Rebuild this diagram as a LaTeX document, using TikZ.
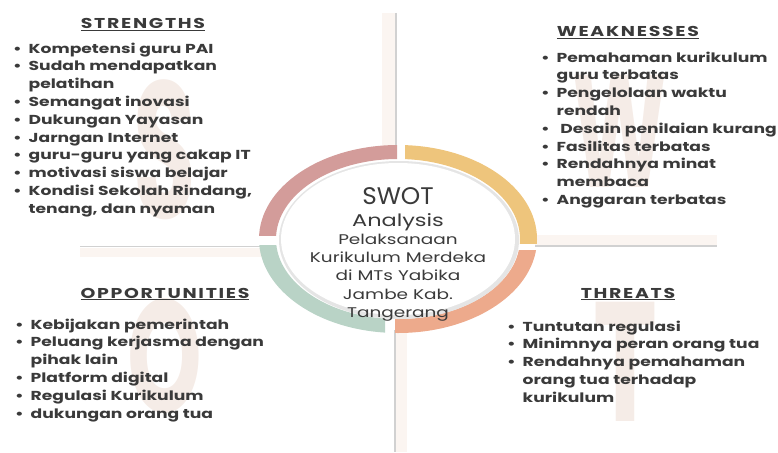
\documentclass[tikz,border=0pt]{standalone}
\usepackage{fontspec}
\setmainfont{Poppins}[FakeStretch=1.32]
\usepackage[HTML]{xcolor}
\usetikzlibrary{positioning}

\definecolor{txtgray}{HTML}{3A3A3A}
\definecolor{sred}{HTML}{D39C9A}
\definecolor{wyellow}{HTML}{EEC57C}
\definecolor{tsalmon}{HTML}{EDAA8C}
\definecolor{ogreen}{HTML}{B9D3C6}
\definecolor{bandcol}{HTML}{FBF5F1}
\definecolor{markcol}{HTML}{F5ECE7}

\newcommand{\itm}[1]{\makebox[15.5pt][l]{\textbullet}#1}
\newcommand{\cnt}[1]{\hspace*{15.5pt}#1}

\begin{document}
\begin{tikzpicture}[x=1pt, y=-1pt,
  list/.style={anchor=north west, align=left, inner sep=0pt, text=txtgray,
    font=\fontsize{13}{17.8}\selectfont\bfseries},
  head/.style={anchor=base, inner sep=0pt, text=txtgray,
    font=\fontsize{14.3}{16}\selectfont\bfseries\addfontfeatures{LetterSpace=12}},
  bigmark/.style={text=markcol, inner sep=0pt, transform shape,
    font=\fontsize{100}{100}\selectfont\bfseries},
  center/.style={anchor=base, inner sep=0pt, text=txtgray, align=center}]
\useasboundingbox (0,0) rectangle (778,452);

% Faint letters behind the lists
\node[bigmark, xscale=0.77, yscale=1.95] (markS) at (165,150) {S};
\node[bigmark, xscale=0.68, yscale=1.6] (markW) at (620,131) {W};
\node[bigmark, xscale=0.72, yscale=1.6] (markO) at (165,356) {O};
\node[bigmark, xscale=0.82, yscale=1.7] (markT) at (625,362) {T};

% Cross bands
\fill[bandcol] (382,13) rectangle (395,150);
\draw[black!18, line width=1.5pt] (396,13) -- (396,150);
\fill[bandcol] (396,330) rectangle (407,452);
\draw[black!18, line width=1.5pt] (395,330) -- (395,452);
\fill[bandcol] (80,248) rectangle (262,257);
\draw[black!18, line width=1.5pt] (80,246.5) -- (262,246.5);
\fill[bandcol] (535,235) rectangle (717,245);
\draw[black!18, line width=1.5pt] (535,246) -- (717,246);

% Ring quadrants
\begin{scope}
\clip (0,0) rectangle (397,235);
\fill[sred, even odd rule] (398,239) ellipse [x radius=139pt, y radius=94pt]
  (398,239) ellipse [x radius=122pt, y radius=80pt];
\end{scope}
\begin{scope}
\clip (405,0) rectangle (778,243);
\fill[wyellow, even odd rule] (398,239) ellipse [x radius=139pt, y radius=94pt]
  (398,239) ellipse [x radius=122pt, y radius=80pt];
\end{scope}
\begin{scope}
\clip (395,250) rectangle (778,452);
\fill[tsalmon, even odd rule] (398,239) ellipse [x radius=139pt, y radius=94pt]
  (398,239) ellipse [x radius=122pt, y radius=80pt];
\end{scope}
\begin{scope}
\clip (0,245) rectangle (385,452);
\fill[ogreen, even odd rule] (398,239) ellipse [x radius=139pt, y radius=94pt]
  (398,239) ellipse [x radius=122pt, y radius=80pt];
\end{scope}

% Inner disc
\fill[black!10] (399,240) ellipse [x radius=120pt, y radius=79pt];
\fill[white] (398,239) ellipse [x radius=117pt, y radius=76pt];

% Centre text
\node[center, xscale=0.78, transform shape, font=\fontsize{24}{26}\selectfont] (swot) at (398,204) {SWOT};
\node[center, font=\fontsize{17}{20}\selectfont] (analysis) at (398,226) {Analysis};
\node[center, anchor=north, font=\fontsize{14}{18.2}\selectfont] (topic) at (398,234)
  {Pelaksanaan\\Kurikulum Merdeka\\di MTs Yabika\\Jambe Kab.\\Tangerang};

% Strengths
\node[head] (hS) at (143,29) {\underline{STRENGTHS}};
\node[list] (lS) at (13,42.4) {\itm{Kompetensi guru PAI}\\\itm{Sudah mendapatkan}\\
  \cnt{pelatihan}\\\itm{Semangat inovasi}\\\itm{Dukungan Yayasan}\\
  \itm{Jarngan Internet}\\\itm{guru-guru yang cakap IT}\\\itm{motivasi siswa belajar}\\
  \itm{Kondisi Sekolah Rindang,}\\\cnt{tenang, dan nyaman}};

% Weaknesses
\node[head] (hW) at (628,37) {\underline{WEAKNESSES}};
\node[list] (lW) at (541,51.4) {\itm{Pemahaman kurikulum}\\\cnt{guru terbatas}\\
  \itm{Pengelolaan waktu}\\\cnt{rendah}\\\itm{\ Desain penilaian kurang}\\
  \itm{Fasilitas terbatas}\\\itm{Rendahnya minat}\\\cnt{membaca}\\
  \itm{Anggaran terbatas}};

% Opportunities
\node[head] (hO) at (165,298) {\underline{OPPORTUNITIES}};
\node[list] (lO) at (15,318.4) {\itm{Kebijakan pemerintah}\\\itm{Peluang kerjasma dengan}\\
  \cnt{pihak lain}\\\itm{Platform digital}\\\itm{Regulasi Kurikulum}\\
  \itm{dukungan orang tua}};

% Threats
\node[head] (hT) at (628,298) {\underline{THREATS}};
\node[list] (lT) at (507,320.4) {\itm{Tuntutan regulasi}\\\itm{Minimnya peran orang tua}\\
  \itm{Rendahnya pemahaman}\\\cnt{orang tua terhadap}\\\cnt{kurikulum}};
\end{tikzpicture}
\end{document}
